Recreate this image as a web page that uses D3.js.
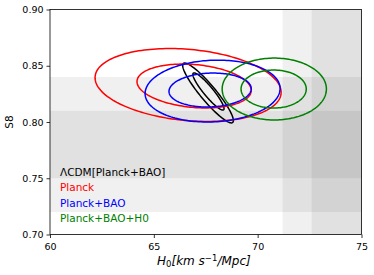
<!DOCTYPE html>
<html>
<head>
<meta charset="utf-8">
<script src="https://cdn.jsdelivr.net/npm/d3@7"></script>
<style>
  body { margin: 0; background: #fff; }
  svg { font-family: "DejaVu Sans", sans-serif; }
</style>
</head>
<body>
<svg id="gfx" width="374" height="275"></svg>
<script>
// Series (legend order)
const series = ["\u039BCDM[Planck+BAO]", "Planck", "Planck+BAO", "Planck+BAO+H0"];
const seriesColors = ["black", "red", "blue", "green"];

// 1-sigma contours: center and half extents
const innerH0 = [67.63, 66.94, 67.71, 70.77];
const innerS8 = [0.8271, 0.8320, 0.8284, 0.8293];
const innerWH0 = [0.75, 2.75, 1.98, 1.57];
const innerWS8 = [0.0165, 0.0195, 0.0151, 0.0169];

// 2-sigma contours
const outerH0 = [67.61, 66.65, 67.83, 70.80];
const outerS8 = [0.8258, 0.8329, 0.8275, 0.8293];
const outerWH0 = [1.22, 4.48, 3.25, 2.51];
const outerWS8 = [0.0266, 0.0324, 0.0275, 0.0275];

// H0 / S8 correlation of each contour
const corr = [-0.92, -0.2, 0.08, 0.0];

// shaded bands (1 and 2 sigma)
const s8Bands = [[0.72, 0.84], [0.75, 0.81]];
const h0Bands = [[71.2, 76.6], [72.6, 75.3]];

const xTicks = [60, 65, 70, 75];
const yTicks = [0.70, 0.75, 0.80, 0.85, 0.90];

const svg = d3.select("#gfx");
const x = d3.scaleLinear().domain([60, 75]).range([50, 361.5]);
const y = d3.scaleLinear().domain([0.70, 0.90]).range([234.5, 9.5]);

svg.append("defs").append("clipPath").attr("id", "plot")
    .append("rect")
    .attr("x", x(60)).attr("y", y(0.90))
    .attr("width", x(75) - x(60)).attr("height", y(0.70) - y(0.90));

const plot = svg.append("g").attr("clip-path", "url(#plot)");

// bands
plot.selectAll("rect.s8band").data(s8Bands).enter()
    .append("rect").attr("class", "s8band")
    .attr("x", x(60)).attr("width", x(75) - x(60))
    .attr("y", d => y(d[1])).attr("height", d => y(d[0]) - y(d[1]))
    .attr("fill", "#000").attr("fill-opacity", 0.06);

plot.selectAll("rect.h0band").data(h0Bands).enter()
    .append("rect").attr("class", "h0band")
    .attr("x", d => x(d[0])).attr("width", d => x(d[1]) - x(d[0]))
    .attr("y", y(0.90)).attr("height", y(0.70) - y(0.90))
    .attr("fill", "#000").attr("fill-opacity", 0.06);

// contour shape from center, half extents and correlation
function ellipse(cx, cy, wx, wy, r) {
    const pts = d3.range(0, 2 * Math.PI + 0.001, Math.PI / 90).map(t => [
        cx + wx * Math.cos(t),
        cy + wy * (r * Math.cos(t) + Math.sqrt(1 - r * r) * Math.sin(t))
    ]);
    return d3.line().x(d => x(d[0])).y(d => y(d[1]))(pts);
}

series.forEach((name, i) => {
    plot.append("path")
        .attr("d", ellipse(outerH0[i], outerS8[i], outerWH0[i], outerWS8[i], corr[i]))
        .attr("fill", "none").attr("stroke", seriesColors[i]).attr("stroke-width", 1.5);
    plot.append("path")
        .attr("d", ellipse(innerH0[i], innerS8[i], innerWH0[i], innerWS8[i], corr[i]))
        .attr("fill", "none").attr("stroke", seriesColors[i]).attr("stroke-width", 1.5);
});

// axes
const xAxis = svg.append("g").attr("transform", "translate(0," + y(0.70) + ")")
    .call(d3.axisBottom(x).tickValues(xTicks).tickFormat(d3.format("d")).tickSize(3.5).tickSizeOuter(0));
const yAxis = svg.append("g").attr("transform", "translate(" + x(60) + ",0)")
    .call(d3.axisLeft(y).tickValues(yTicks).tickFormat(d3.format(".2f")).tickSize(3.5).tickSizeOuter(0));
[xAxis, yAxis].forEach(a => {
    a.select(".domain").remove();
    a.selectAll("text").attr("font-family", "DejaVu Sans").attr("font-size", 9.5).attr("fill", "#000");
    a.selectAll("line").attr("stroke", "#000").attr("stroke-width", 0.8);
});
xAxis.selectAll("text").attr("dy", "0.95em");

// frame
svg.append("rect")
    .attr("x", x(60)).attr("y", y(0.90))
    .attr("width", x(75) - x(60)).attr("height", y(0.70) - y(0.90))
    .attr("fill", "none").attr("stroke", "#000").attr("stroke-width", 0.8);

// legend (text only)
svg.selectAll("text.legend").data(series).enter()
    .append("text").attr("class", "legend")
    .attr("x", 60).attr("y", (d, i) => 176 + i * 15.4)
    .attr("font-size", 10.5)
    .attr("fill", (d, i) => seriesColors[i])
    .text(d => d);

// axis labels
const xl = svg.append("text").attr("x", 157).attr("y", 265).attr("font-size", 12)
    .attr("font-style", "italic");
xl.append("tspan").text("H");
xl.append("tspan").attr("font-style", "normal").attr("font-size", 8.5).attr("dy", 2).text("0");
xl.append("tspan").attr("dy", -2).text("[km s");
xl.append("tspan").attr("font-style", "normal").attr("font-size", 8.5).attr("dy", -4.5).text("\u22121");
xl.append("tspan").attr("dy", 4.5).text("/Mpc]");

svg.append("text")
    .attr("transform", "translate(13," + y(0.80) + ") rotate(-90)")
    .attr("text-anchor", "middle")
    .attr("font-size", 10.5)
    .text("S8");
</script>
</body>
</html>
